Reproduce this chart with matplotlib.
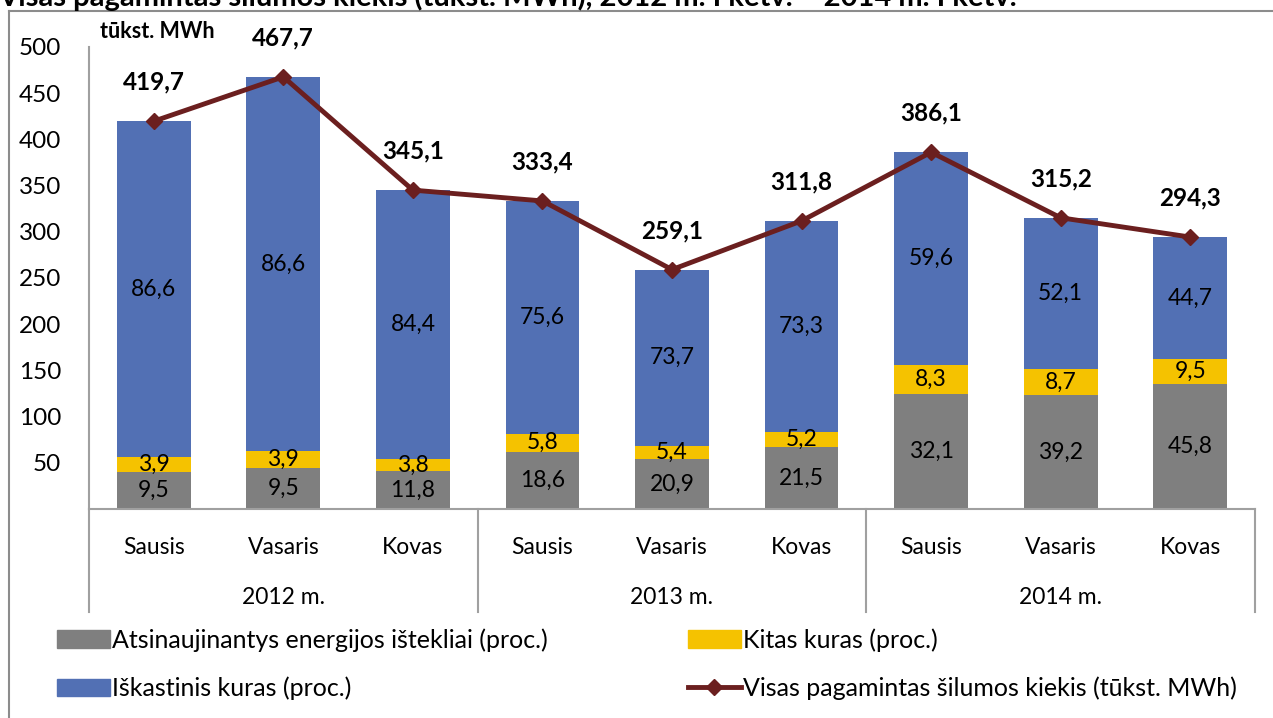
import numpy as np
import matplotlib.pyplot as plt
from matplotlib.lines import Line2D
from matplotlib.patches import Patch
import matplotlib.transforms as mtransforms

plt.rcParams['font.family'] = ['Lato', 'DejaVu Sans']

menesiai = ['Sausis', 'Vasaris', 'Kovas'] * 3
metai = ['2012 m.', '2013 m.', '2014 m.']
viso = [419.7, 467.7, 345.1, 333.4, 259.1, 311.8, 386.1, 315.2, 294.3]
atsinaujinantys = [9.5, 9.5, 11.8, 18.6, 20.9, 21.5, 32.1, 39.2, 45.8]
kitas = [3.9, 3.9, 3.8, 5.8, 5.4, 5.2, 8.3, 8.7, 9.5]
iskastinis = [86.6, 86.6, 84.4, 75.6, 73.7, 73.3, 59.6, 52.1, 44.7]

c_grey = '#7f7f7f'
c_yel = '#f5c200'
c_blue = '#5270b4'
c_line = '#6b1f1f'
fs = 16.5

def fmt(v):
    return ('%.1f' % v).replace('.', ',')

fig = plt.figure(figsize=(12.73, 7.18), dpi=100)
ax = fig.add_axes([89/1273, 1-509/718, (1255-89)/1273, (509-47)/718])

x = np.arange(len(viso))
tot = np.array(viso)
h1 = np.array(atsinaujinantys) * tot / 100
h2 = np.array(kitas) * tot / 100
h3 = np.array(iskastinis) * tot / 100
w = 0.57
ax.bar(x, h1, w, color=c_grey)
ax.bar(x, h2, w, bottom=h1, color=c_yel)
ax.bar(x, h3, w, bottom=h1+h2, color=c_blue)

for i in range(len(x)):
    ax.text(x[i], h1[i]/2, fmt(atsinaujinantys[i]), ha='center', va='center', fontsize=fs)
    ax.text(x[i], h1[i]+h2[i]/2, fmt(kitas[i]), ha='center', va='center', fontsize=fs)
    ax.text(x[i], h1[i]+h2[i]+h3[i]/2, fmt(iskastinis[i]), ha='center', va='center', fontsize=fs)

ax.plot(x, tot, color=c_line, lw=3.5, marker='D', ms=8, zorder=5)
for i in range(len(x)):
    ax.annotate(fmt(viso[i]), (x[i], tot[i]), xytext=(0, 28), textcoords='offset points',
                ha='center', va='center', fontsize=17.5, fontweight='bold')

ax.set_xlim(-0.5, 8.5)
ax.set_ylim(0, 500)
ax.set_yticks(np.arange(50, 501, 50))
ax.tick_params(axis='y', length=0, pad=20, labelsize=17.5)
ax.set_xticks(x)
ax.set_xticklabels(menesiai, fontsize=fs)
ax.tick_params(axis='x', length=0, pad=20)
for s in ['top', 'right']:
    ax.spines[s].set_visible(False)
ax.spines['left'].set_color('#a0a0a0')
ax.spines['bottom'].set_color('#a0a0a0')
ax.spines['left'].set_linewidth(1.5)
ax.spines['bottom'].set_linewidth(1.5)

trans = mtransforms.blended_transform_factory(ax.transData, fig.transFigure)
for b in [-0.5, 2.5, 5.5, 8.5]:
    ax.add_line(Line2D([b, b], [1-509/718, 1-612/718], transform=trans, color='#a0a0a0',
                       lw=1.5, clip_on=False))
for k, m in enumerate(metai):
    ax.text(3*k + 1, 1-598/718, m, transform=trans, ha='center', va='center', fontsize=fs)

ax.text(100/1273, 1-32/718, 'tūkst. MWh', transform=fig.transFigure, fontsize=15.5,
        fontweight='bold', va='center')

# outer frame
fig.add_artist(Line2D([9/1273, 9/1273], [0, 1-11/718], transform=fig.transFigure,
                      color='#8c8c8c', lw=1.5))
fig.add_artist(Line2D([9/1273, 1], [1-11/718, 1-11/718], transform=fig.transFigure,
                      color='#8c8c8c', lw=1.5))
fig.text(-2/1273, 1-6/718, 'Visas pagamintas šilumos kiekis (tūkst. MWh), 2012 m. I ketv. – 2014 m. I ketv.',
         fontsize=21, fontweight='bold', va='baseline')

h_grey = Patch(color=c_grey)
h_yel = Patch(color=c_yel)
h_blue = Patch(color=c_blue)
h_line = Line2D([0], [0], color=c_line, lw=3.5, marker='D', ms=8)
kw = dict(frameon=False, fontsize=18, handlelength=2.1, handletextpad=0.1,
          labelspacing=1.0, borderpad=0, borderaxespad=0, loc='center left')
fig.legend([h_grey, h_blue], ['Atsinaujinantys energijos ištekliai (proc.)', 'Iškastinis kuras (proc.)'],
           bbox_to_anchor=(57/1273, 1-664/718), **kw)
fig.legend([h_yel, h_line], ['Kitas kuras (proc.)', 'Visas pagamintas šilumos kiekis (tūkst. MWh)'],
           bbox_to_anchor=(688/1273, 1-664/718), **kw)

fig.savefig('out.png', dpi=100)
